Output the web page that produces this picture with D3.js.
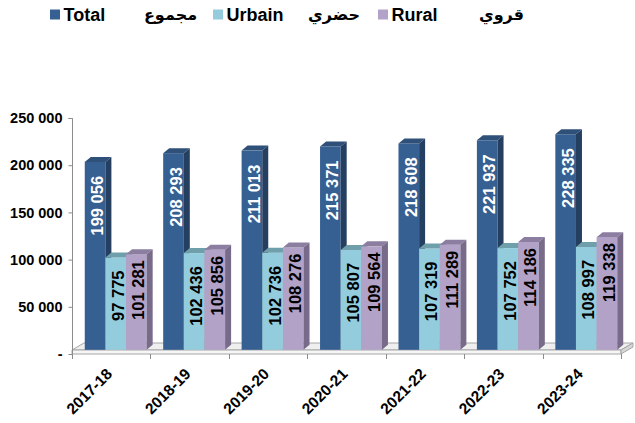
<!DOCTYPE html>
<html>
<head>
<meta charset="utf-8">
<script src="https://cdn.jsdelivr.net/npm/d3@7"></script>
<style>
  body { margin: 0; background: #fff; }
  text { font-family: Arial, "Liberation Sans", "DejaVu Sans", sans-serif; font-weight: bold; }
</style>
</head>
<body>
<div id="chart"></div>
<script>
//*********************** DATA ***********************
var years = ["2017-18", "2018-19", "2019-20", "2020-21", "2021-22", "2022-23", "2023-24"];
var total = [199056, 208293, 211013, 215371, 218608, 221937, 228335];
var urbain = [97775, 102436, 102736, 105807, 107319, 107752, 108997];
var rural = [101281, 105856, 108276, 109564, 111289, 114186, 119338];
var yTicks = [0, 50000, 100000, 150000, 200000, 250000];
var seriesNames = ["Total", "Urbain", "Rural"];
var seriesArabic = ["مجموع", "حضري", "قروي"];

//*********************** DECLARE VARIABLES ***********************
var width = 635,
    height = 423,
    axisX = 72,
    plotRight = 621,
    floorDx = 12, floorDy = -7,
    barDx = 4.5, barDy = -4.2,   // bars sit a bit inside the floor depth
    depthX = 6, depthY = -5;

var styles = {
  Total:  {front: "#376092", top: "#2E5079", side: "#243F60", label: "#fff", lab: 14},
  Urbain: {front: "#93CDDD", top: "#6E9FAB", side: "#6F9CA8", label: "#000", lab: 13},
  Rural:  {front: "#B3A2C7", top: "#8C7EA0", side: "#786B89", label: "#000", lab: 6}
};

var rows = years.map(function(y, i) {
  return {year: y, values: [
    {key: "Total", v: total[i]},
    {key: "Urbain", v: urbain[i]},
    {key: "Rural", v: rural[i]}
  ]};
});

var yScale = d3.scaleLinear().domain([0, 250000]).range([354, 118]);
var x0 = d3.scaleBand().domain(years).range([axisX, plotRight]).padding(0);
var x1 = d3.scaleBand().domain(seriesNames).range([0, x0.bandwidth()])
           .paddingInner(0).paddingOuter(0.4);

var fmt = function(v) {
  if (v === 0) return "-";
  return d3.format(",")(v).replace(/,/g, " ");
};

var svg = d3.select("#chart").append("svg")
  .attr("width", width)
  .attr("height", height);

//*********************** FLOOR AND AXES ***********************
var y0 = yScale(0);
svg.append("path")
  .attr("d", "M" + axisX + "," + (y0 - 4) + "L" + plotRight + "," + (y0 - 4) +
             "L" + (plotRight + floorDx) + "," + (y0 - 4 + floorDy) +
             "L" + (axisX + floorDx) + "," + (y0 - 4 + floorDy) + "Z")
  .attr("fill", "#efefef")
  .attr("stroke", "#a6a6a6")
  .attr("stroke-width", 1);

svg.append("path")
  .attr("d", "M" + axisX + "," + (y0 - 4) + "L" + plotRight + "," + (y0 - 4) +
             "L" + plotRight + "," + y0 + "L" + axisX + "," + y0 + "Z")
  .attr("fill", "#f6f6f6")
  .attr("stroke", "#a6a6a6")
  .attr("stroke-width", 1);

svg.append("path")
  .attr("d", "M" + plotRight + "," + (y0 - 4) + "L" + (plotRight + floorDx) + "," + (y0 - 4 + floorDy) +
             "L" + (plotRight + floorDx) + "," + (y0 + floorDy) + "L" + plotRight + "," + y0 + "Z")
  .attr("fill", "#d6d6d6")
  .attr("stroke", "#a6a6a6")
  .attr("stroke-width", 1);

var yAxis = d3.axisLeft(yScale).tickValues(yTicks).tickSize(4).tickFormat(fmt);
var gy = svg.append("g")
  .attr("transform", "translate(" + (axisX + 0.5) + ",0)")
  .call(yAxis);
gy.select(".domain").attr("stroke", "#8c8c8c").attr("d", "M-4,118.5H0V" + (y0 + 3));
gy.selectAll(".tick line").attr("stroke", "#8c8c8c");
gy.selectAll(".tick text")
  .attr("x", -10)
  .attr("fill", "#000")
  .style("font-size", "14.5px")
  .style("font-family", "Arial, 'Liberation Sans', sans-serif")
  .style("font-weight", "bold");

// category ticks on the floor front edge
svg.selectAll(".xtick")
  .data(d3.range(years.length + 1))
  .enter().append("line")
  .attr("x1", function(i) { return Math.round(axisX + i * x0.step()) + 0.5; })
  .attr("x2", function(i) { return Math.round(axisX + i * x0.step()) + 0.5; })
  .attr("y1", y0)
  .attr("y2", y0 + 5)
  .attr("stroke", "#8c8c8c");

svg.selectAll(".xlabel")
  .data(years)
  .enter().append("text")
  .attr("transform", function(d) {
    return "translate(" + (x0(d) + x0.bandwidth() / 2 + 2) + ",375) rotate(-45)";
  })
  .attr("text-anchor", "end")
  .style("font-size", "15.5px")
  .text(function(d) { return d; });

//*********************** BARS ***********************
var groups = svg.selectAll(".grp")
  .data(rows)
  .enter().append("g")
  .attr("class", "grp");

var bars = groups.selectAll(".bar")
  .data(function(d) {
    return d.values.map(function(v) { return {year: d.year, key: v.key, v: v.v}; });
  })
  .enter().append("g")
  .attr("class", "bar");

function bx(d) { return x0(d.year) + x1(d.key) + barDx; }
function bTop(d) { return yScale(d.v) + barDy; }
var bw = x1.bandwidth();
var bBottom = y0 + barDy;

bars.append("rect")
  .attr("x", bx)
  .attr("y", bTop)
  .attr("width", bw)
  .attr("height", function(d) { return bBottom - bTop(d); })
  .attr("fill", function(d) { return styles[d.key].front; });

bars.append("path")
  .attr("d", function(d) {
    var x = bx(d), t = bTop(d);
    return "M" + x + "," + t + "L" + (x + depthX) + "," + (t + depthY) +
           "L" + (x + bw + depthX) + "," + (t + depthY) + "L" + (x + bw) + "," + t + "Z";
  })
  .attr("fill", function(d) { return styles[d.key].top; });

bars.append("path")
  .attr("d", function(d) {
    var x = bx(d) + bw, t = bTop(d);
    return "M" + x + "," + t + "L" + (x + depthX) + "," + (t + depthY) +
           "L" + (x + depthX) + "," + (bBottom + depthY) + "L" + x + "," + bBottom + "Z";
  })
  .attr("fill", function(d) { return styles[d.key].side; });

//*********************** DATA LABELS ***********************
var allBars = [];
rows.forEach(function(r) {
  r.values.forEach(function(v) { allBars.push({year: r.year, key: v.key, v: v.v}); });
});

svg.selectAll(".vlabel")
  .data(allBars)
  .enter().append("text")
  .attr("transform", function(d) {
    return "translate(" + (bx(d) + bw / 2 + 2) + "," + (bTop(d) + styles[d.key].lab) + ") rotate(-90)";
  })
  .attr("text-anchor", "end")
  .attr("dominant-baseline", "central")
  .attr("fill", function(d) { return styles[d.key].label; })
  .style("font-size", "16.5px")
  .text(function(d) { return fmt(d.v); });

//*********************** LEGEND ***********************
var legX = [50, 213, 378],
    arX = [170.5, 334, 501.5];

var leg = svg.selectAll(".leg")
  .data(seriesNames)
  .enter().append("g")
  .attr("class", "leg");

leg.append("rect")
  .attr("x", function(d, i) { return legX[i]; })
  .attr("y", 9.5)
  .attr("width", 10)
  .attr("height", 10)
  .attr("fill", function(d) { return styles[d].front; });

leg.append("text")
  .attr("x", function(d, i) { return legX[i] + 13.5; })
  .attr("y", 21)
  .style("font-size", "18px")
  .text(function(d) { return d; });

leg.append("text")
  .attr("x", function(d, i) { return arX[i]; })
  .attr("y", 20)
  .attr("text-anchor", "middle")
  .style("font-size", "16px")
  .style("font-family", "'DejaVu Sans', sans-serif")
  .text(function(d, i) { return seriesArabic[i]; });
</script>
</body>
</html>
